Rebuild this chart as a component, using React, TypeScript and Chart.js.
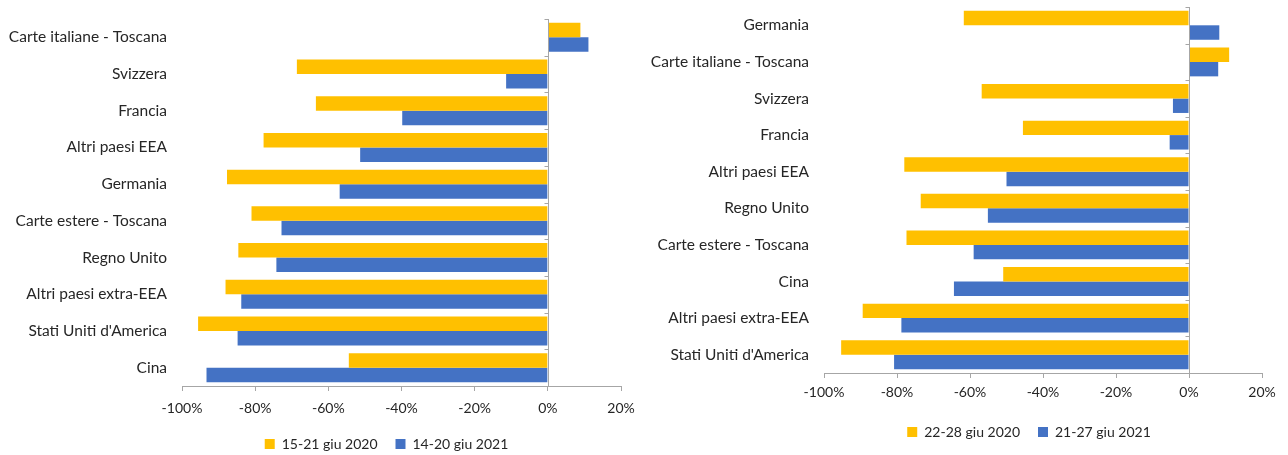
import React, { useEffect, useRef } from "react";
import { Chart, registerables } from "chart.js";

Chart.register(...registerables);

// ---------- Data ----------
const leftCategories = [
  "Carte italiane - Toscana",
  "Svizzera",
  "Francia",
  "Altri paesi EEA",
  "Germania",
  "Carte estere - Toscana",
  "Regno Unito",
  "Altri paesi extra-EEA",
  "Stati Uniti d'America",
  "Cina",
];
const leftSeries2020 = [8.9, -68.6, -63.4, -77.7, -87.7, -81.0, -84.6, -88.1, -95.6, -54.4];
const leftSeries2021 = [11.1, -11.4, -39.8, -51.3, -56.9, -72.8, -74.2, -83.8, -84.8, -93.3];
const leftLabel2020 = "15-21 giu 2020";
const leftLabel2021 = "14-20 giu 2021";

const rightCategories = [
  "Germania",
  "Carte italiane - Toscana",
  "Svizzera",
  "Francia",
  "Altri paesi EEA",
  "Regno Unito",
  "Carte estere - Toscana",
  "Cina",
  "Altri paesi extra-EEA",
  "Stati Uniti d'America",
];
const rightSeries2020 = [-61.7, 11.0, -56.8, -45.5, -78.0, -73.5, -77.4, -50.9, -89.4, -95.3];
const rightSeries2021 = [8.3, 8.0, -4.4, -5.3, -50.0, -55.1, -59.0, -64.4, -78.8, -80.8];
const rightLabel2020 = "22-28 giu 2020";
const rightLabel2021 = "21-27 giu 2021";

const xTickMin = -100;
const xTickMax = 20;
const xTickStep = 20;

// ---------- Styles ----------
const YELLOW = "#FFC000";
const BLUE = "#4472C4";
const AXIS = "#A6A6A6";
const TEXT = "#262626";
const FONT = "Lato, 'Open Sans', sans-serif";

const zeroLinePlugin = {
  id: "zeroLine",
  afterDatasetsDraw(chart: any) {
    const { ctx, chartArea, scales } = chart;
    const x = Math.round(scales.x.getPixelForValue(0)) + 0.5;
    const n = scales.y.ticks.length;
    ctx.save();
    ctx.strokeStyle = AXIS;
    ctx.lineWidth = 1;
    ctx.beginPath();
    ctx.moveTo(x, chartArea.top);
    ctx.lineTo(x, chartArea.bottom);
    for (let i = 0; i <= n; i++) {
      const y = Math.round(chartArea.top + (i * (chartArea.bottom - chartArea.top)) / n) + 0.5;
      ctx.moveTo(x - 4, y);
      ctx.lineTo(x, y);
    }
    ctx.stroke();
    ctx.restore();
  },
};

const legendShiftPlugin = {
  id: "legendShift",
  afterLayout(chart: any, _args: any, opts: any) {
    const dx = (opts && opts.dx) || 0;
    if (chart.legend) {
      chart.legend.left += dx;
      chart.legend.right += dx;
    }
  },
};

type PanelProps = {
  categories: string[];
  a: number[];
  b: number[];
  labelA: string;
  labelB: string;
  left: number;
  width: number;
  yAxisWidth: number;
  padTop: number;
  padRight: number;
  xAxisHeight: number;
  padBottom: number;
  tickPad: number;
  legendDx: number;
};

function Panel(p: PanelProps) {
  const ref = useRef<HTMLCanvasElement | null>(null);
  useEffect(() => {
    if (!ref.current) return;
    const chart = new Chart(ref.current, {
      type: "bar",
      data: {
        labels: p.categories,
        datasets: [
          {
            label: p.labelA,
            data: p.a,
            backgroundColor: YELLOW,
            categoryPercentage: 0.79,
            barPercentage: 1,
          },
          {
            label: p.labelB,
            data: p.b,
            backgroundColor: BLUE,
            categoryPercentage: 0.79,
            barPercentage: 1,
          },
        ],
      },
      options: {
        indexAxis: "y",
        animation: false,
        responsive: false,
        maintainAspectRatio: false,
        layout: { padding: { top: p.padTop, right: p.padRight, bottom: p.padBottom, left: 0 } },
        plugins: {
          legend: {
            position: "bottom",
            fullSize: false,
            labels: {
              boxWidth: 10,
              boxHeight: 10,
              padding: 18,
              color: TEXT,
              font: { family: FONT, size: 14 },
            },
          },
          tooltip: { enabled: false },
          legendShift: { dx: p.legendDx },
        },
        scales: {
          x: {
            type: "linear",
            min: xTickMin,
            max: xTickMax,
            ticks: {
              stepSize: xTickStep,
              color: TEXT,
              padding: p.tickPad,
              font: { family: FONT, size: 14 },
              callback: (v: any) => `${v}%`,
            },
            grid: { display: true, drawOnChartArea: false, drawTicks: true, tickLength: 5, color: AXIS },
            border: { display: true, color: AXIS },
            afterFit: (s: any) => {
              s.height = p.xAxisHeight;
              s.paddingLeft = 0;
              s.paddingRight = 0;
            },
          },
          y: {
            type: "category",
            ticks: {
              color: TEXT,
              padding: 15,
              font: { family: FONT, size: 15.5 },
            },
            grid: { display: false, drawTicks: false },
            border: { display: false },
            afterFit: (s: any) => {
              s.width = p.yAxisWidth;
              s.paddingTop = 0;
              s.paddingBottom = 0;
            },
          },
        },
      },
      plugins: [zeroLinePlugin, legendShiftPlugin],
    } as any);
    return () => chart.destroy();
  }, []);
  return (
    <canvas
      ref={ref}
      width={p.width}
      height={455}
      style={{ position: "absolute", left: p.left, top: 0, width: p.width, height: 455 }}
    />
  );
}

export default function App() {
  return (
    <div style={{ position: "fixed", left: 0, top: 0, width: 1288, height: 455, background: "#fff" }}>
      <Panel
        categories={leftCategories}
        a={leftSeries2020}
        b={leftSeries2021}
        labelA={leftLabel2020}
        labelB={leftLabel2021}
        left={0}
        width={640}
        yAxisWidth={182}
        padTop={19}
        padRight={19}
        xAxisHeight={33}
        padBottom={-6}
        tickPad={9}
        legendDx={-15}
      />
      <Panel
        categories={rightCategories}
        a={rightSeries2020}
        b={rightSeries2021}
        labelA={rightLabel2020}
        labelB={rightLabel2021}
        left={640}
        width={648}
        yAxisWidth={184}
        padTop={7}
        padRight={26}
        xAxisHeight={34}
        padBottom={6}
        tickPad={6}
        legendDx={-14}
      />
    </div>
  );
}
